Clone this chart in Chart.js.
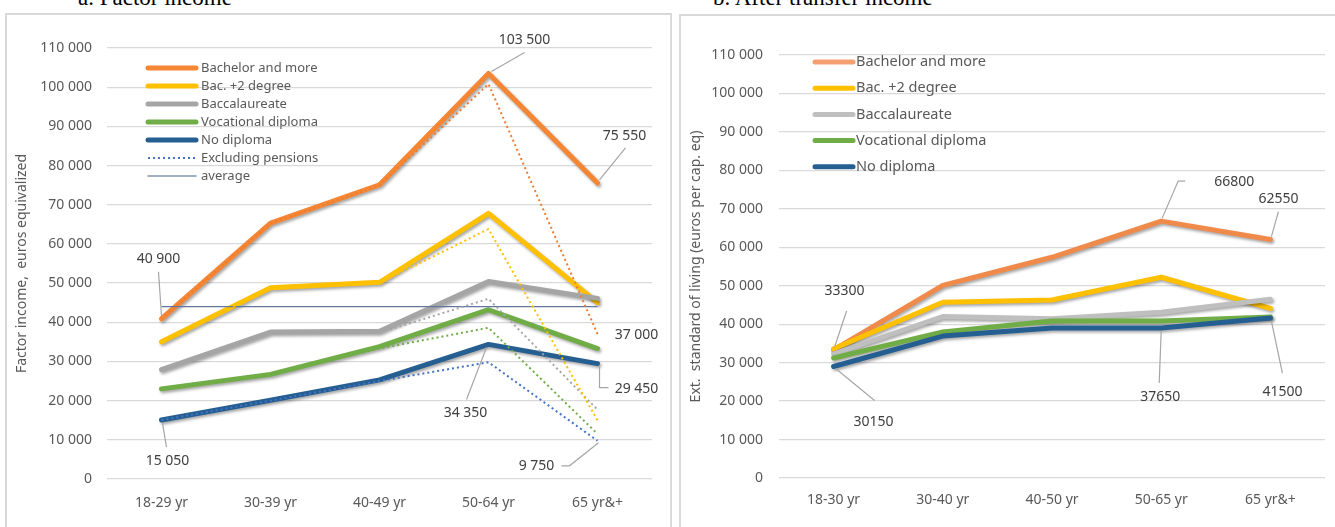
<!DOCTYPE html>
<html>
<head>
<meta charset="utf-8">
<script src="https://cdn.jsdelivr.net/npm/chart.js@4.4.1/dist/chart.umd.min.js"></script>
<style>
  body { margin: 0; width: 1335px; height: 527px; overflow: hidden; position: relative; background: #fff; }
  .box { position: absolute; border: 2px solid #d9d9d9; box-sizing: border-box; }
  .title { position: absolute; font-family: 'Liberation Serif', serif; font-size: 23px; line-height: 23px; color: #000; white-space: nowrap; }
  canvas { position: absolute; }
</style>
</head>
<body>
<div class="title" style="left:78px; top:-14px;">a. Factor income</div>
<div class="title" style="left:713px; top:-14px;">b. After transfer income</div>
<div class="box" style="left:5px; top:13px; width:667px; height:530px;"></div>
<div class="box" style="left:679px; top:14px; width:670px; height:530px;"></div>
<canvas id="left" width="664" height="512" style="left:7px; top:15px;"></canvas>
<canvas id="right" width="654" height="511" style="left:681px; top:16px;"></canvas>

<script>
// ---- data: a. Factor income ----
const leftAges = ['18-29 yr', '30-39 yr', '40-49 yr', '50-64 yr', '65 yr&+'];
const leftBachelor = [40900, 65300, 75100, 103500, 75550];
const leftBac2 = [35000, 48800, 50200, 67800, 45000];
const leftBacc = [27900, 37500, 37700, 50400, 46100];
const leftVoc = [23000, 26700, 33800, 43200, 33300];
const leftNoDip = [15050, 20100, 25300, 34350, 29450];
const leftBachelorExcl = [40900, 65300, 74900, 100800, 37000];
const leftBac2Excl = [35000, 48500, 50000, 63800, 15000];
const leftBaccExcl = [27900, 37300, 37300, 46000, 17700];
const leftVocExcl = [23000, 26700, 33300, 38600, 11500];
const leftNoDipExcl = [15050, 20000, 25000, 29800, 9750];
const leftAverage = [44000, 44000, 44000, 44000, 44000];

// ---- data: b. After transfer income ----
const rightAges = ['18-30 yr', '30-40 yr', '40-50 yr', '50-65 yr', '65 yr&+'];
const rightBachelor = [33300, 50100, 57400, 66800, 62000];
const rightBac2 = [33600, 45700, 46300, 52200, 44100];
const rightBacc = [32300, 42000, 41400, 43100, 46500];
const rightVoc = [31200, 38000, 40800, 40800, 41900];
const rightNoDip = [29000, 36900, 39000, 39000, 41600];

const yTicksMax = 110000;
const yTicksStep = 10000;

const FONT = "'Noto Sans', sans-serif";
Chart.defaults.font.family = FONT;

const fmt = v => String(v).replace(/\B(?=(\d{3})+(?!\d))/g, ' ');

// drop shadow under the thick lines
const shadowPlugin = {
  id: 'shadow',
  beforeDatasetDraw(chart, args) {
    const ds = chart.data.datasets[args.index];
    if (!ds.shadow) return;
    const ctx = chart.ctx;
    ctx.save();
    ctx.shadowColor = 'rgba(0,0,0,0.35)';
    ctx.shadowBlur = 3;
    ctx.shadowOffsetX = 1.5;
    ctx.shadowOffsetY = 2;
  },
  afterDatasetDraw(chart, args) {
    if (chart.data.datasets[args.index].shadow) chart.ctx.restore();
  }
};

// legend drawn inside the plot, excel style
const innerLegend = {
  id: 'innerLegend',
  afterDraw(chart, args, opts) {
    const ctx = chart.ctx;
    ctx.save();
    ctx.font = opts.fontSize + 'px ' + FONT;
    ctx.textBaseline = 'middle';
    opts.items.forEach((it, i) => {
      const y = opts.y + i * opts.gap;
      ctx.beginPath();
      ctx.strokeStyle = it.color;
      ctx.lineWidth = it.width;
      ctx.lineCap = it.dash ? 'butt' : 'round';
      ctx.setLineDash(it.dash || []);
      ctx.moveTo(opts.x, y);
      ctx.lineTo(opts.x + opts.len, y);
      ctx.stroke();
      ctx.setLineDash([]);
      ctx.fillStyle = '#595959';
      ctx.fillText(it.text, opts.x + opts.len + opts.textGap, y);
    });
    ctx.restore();
  }
};

// value labels with leader lines
const callouts = {
  id: 'callouts',
  afterDraw(chart, args, opts) {
    const ctx = chart.ctx;
    ctx.save();
    ctx.font = opts.fontSize + 'px ' + FONT;
    ctx.textAlign = 'center';
    ctx.textBaseline = 'middle';
    opts.items.forEach(c => {
      const pt = chart.getDatasetMeta(c.ds).data[c.idx];
      if (c.leader) {
        ctx.beginPath();
        ctx.strokeStyle = '#a6a6a6';
        ctx.lineWidth = 1.2;
        c.leader.forEach((p, k) => {
          const px = pt.x + p[0], py = pt.y + p[1];
          k ? ctx.lineTo(px, py) : ctx.moveTo(px, py);
        });
        ctx.stroke();
      }
      ctx.fillStyle = '#404040';
      ctx.fillText(c.text, pt.x + c.dx, pt.y + c.dy);
    });
    ctx.restore();
  }
};

function line(data, color, width, extra) {
  return Object.assign({
    data: data, borderColor: color, backgroundColor: color, borderWidth: width,
    pointRadius: 0, tension: 0, fill: false, borderJoinStyle: 'round', borderCapStyle: 'round'
  }, extra || {});
}

function scales(o) {
  return {
    x: {
      offset: true,
      grid: { display: false, drawTicks: false },
      border: { display: false },
      ticks: { color: '#595959', font: { size: 14 }, padding: o.xPad },
      afterFit: s => { s.height = o.xH; }
    },
    y: {
      min: 0, max: yTicksMax,
      grid: { color: '#d9d9d9', lineWidth: 1.3, drawTicks: false },
      border: { display: false },
      ticks: { stepSize: yTicksStep, color: '#595959', font: { size: 14 }, padding: o.yPad, callback: v => fmt(v) },
      title: { display: true, text: o.title, color: '#595959', font: { size: 14 }, padding: { top: 7, bottom: 0 } },
      afterFit: s => { s.width = o.yW; }
    }
  };
}

const dots = [2, 3];

new Chart(document.getElementById('left'), {
  type: 'line',
  data: {
    labels: leftAges,
    datasets: [
      line(leftBachelor, '#f58634', 5, { order: 6, shadow: true }),
      line(leftBac2, '#ffc000', 5, { order: 5, shadow: true }),
      line(leftBacc, '#a5a5a5', 5, { order: 4, shadow: true }),
      line(leftVoc, '#70ad47', 5, { order: 3, shadow: true }),
      line(leftNoDip, '#255e91', 5, { order: 2, shadow: true }),
      line(leftAverage, '#6176a0', 1.3, { order: 1, borderCapStyle: 'butt' }),
      line(leftBachelorExcl, '#ed7d31', 2, { order: 0, borderDash: dots, borderCapStyle: 'butt' }),
      line(leftBac2Excl, '#ffc000', 2, { order: 0, borderDash: dots, borderCapStyle: 'butt' }),
      line(leftBaccExcl, '#a5a5a5', 2, { order: 0, borderDash: dots, borderCapStyle: 'butt' }),
      line(leftVocExcl, '#70ad47', 2, { order: 0, borderDash: dots, borderCapStyle: 'butt' }),
      line(leftNoDipExcl, '#4472c4', 2, { order: 0, borderDash: dots, borderCapStyle: 'butt' })
    ]
  },
  options: {
    responsive: false, animation: false,
    layout: { padding: { left: 0, right: 19, top: 33, bottom: 0 } },
    scales: scales({ xPad: 16, xH: 48, yPad: 15, yW: 100, title: 'Factor income,  euros equivalized' }),
    plugins: {
      legend: { display: false }, tooltip: { enabled: false },
      innerLegend: {
        x: 141, y: 53, gap: 18, len: 48, textGap: 5, fontSize: 13,
        items: [
          { text: 'Bachelor and more', color: '#f58634', width: 5 },
          { text: 'Bac. +2 degree', color: '#ffc000', width: 5 },
          { text: 'Baccalaureate', color: '#a5a5a5', width: 5 },
          { text: 'Vocational diploma', color: '#70ad47', width: 5 },
          { text: 'No diploma', color: '#255e91', width: 5 },
          { text: 'Excluding pensions', color: '#4472c4', width: 2, dash: [2, 3] },
          { text: 'average', color: '#8497b0', width: 1.5 }
        ]
      },
      callouts: {
        fontSize: 14,
        items: [
          { ds: 0, idx: 3, text: '103 500', dx: 36, dy: -33, leader: [[3, -2], [36, -21]] },
          { ds: 0, idx: 4, text: '75 550', dx: 27, dy: -47, leader: [[2, -3], [28, -35]] },
          { ds: 0, idx: 0, text: '40 900', dx: -3, dy: -60, leader: [[0, -3], [-3, -47]] },
          { ds: 4, idx: 0, text: '15 050', dx: 6, dy: 41, leader: [[1, 3], [5, 27]] },
          { ds: 4, idx: 3, text: '34 350', dx: -23, dy: 69, leader: [[-2, 3], [-22, 55]] },
          { ds: 6, idx: 4, text: '37 000', dx: 39, dy: 1 },
          { ds: 4, idx: 4, text: '29 450', dx: 39, dy: 25, leader: [[2, 2], [2, 24], [11, 24]] },
          { ds: 10, idx: 4, text: '9 750', dx: -61, dy: 25, leader: [[1, 2], [-28, 25], [-36, 25]] }
        ]
      }
    }
  },
  plugins: [shadowPlugin, innerLegend, callouts]
});

new Chart(document.getElementById('right'), {
  type: 'line',
  data: {
    labels: rightAges,
    datasets: [
      line(rightBachelor, '#f08a4b', 5, { order: 5, shadow: true }),
      line(rightBac2, '#ffc000', 5, { order: 4, shadow: true }),
      line(rightBacc, '#bfbfbf', 5, { order: 3, shadow: true }),
      line(rightVoc, '#70ad47', 5, { order: 2, shadow: true }),
      line(rightNoDip, '#255e91', 5, { order: 1, shadow: true })
    ]
  },
  options: {
    responsive: false, animation: false,
    layout: { padding: { left: 0, right: 10, top: 39, bottom: 0 } },
    scales: scales({ xPad: 14, xH: 49, yPad: 16, yW: 98, title: 'Ext.  standard of living (euros per cap. eq)' }),
    plugins: {
      legend: { display: false }, tooltip: { enabled: false },
      innerLegend: {
        x: 134, y: 46, gap: 26.2, len: 38, textGap: 3, fontSize: 14.5,
        items: [
          { text: 'Bachelor and more', color: '#f4a070', width: 5 },
          { text: 'Bac. +2 degree', color: '#ffc000', width: 5 },
          { text: 'Baccalaureate', color: '#bfbfbf', width: 5 },
          { text: 'Vocational diploma', color: '#70ad47', width: 5 },
          { text: 'No diploma', color: '#255e91', width: 5 }
        ]
      },
      callouts: {
        fontSize: 14,
        items: [
          { ds: 0, idx: 0, text: '33300', dx: 11, dy: -59, leader: [[1, -3], [13, -39]] },
          { ds: 4, idx: 0, text: '30150', dx: 40, dy: 56, leader: [[2, 2], [41, 34]] },
          { ds: 0, idx: 3, text: '66800', dx: 73, dy: -39, leader: [[1, -3], [17, -40], [24, -40]] },
          { ds: 0, idx: 4, text: '62550', dx: 8, dy: -41, leader: [[1, -3], [8, -28]] },
          { ds: 4, idx: 3, text: '37650', dx: -1, dy: 69, leader: [[0, 3], [-2, 55]] },
          { ds: 4, idx: 4, text: '41500', dx: 12, dy: 74, leader: [[1, 3], [12, 55]] }
        ]
      }
    }
  },
  plugins: [shadowPlugin, innerLegend, callouts]
});
</script>
</body>
</html>
